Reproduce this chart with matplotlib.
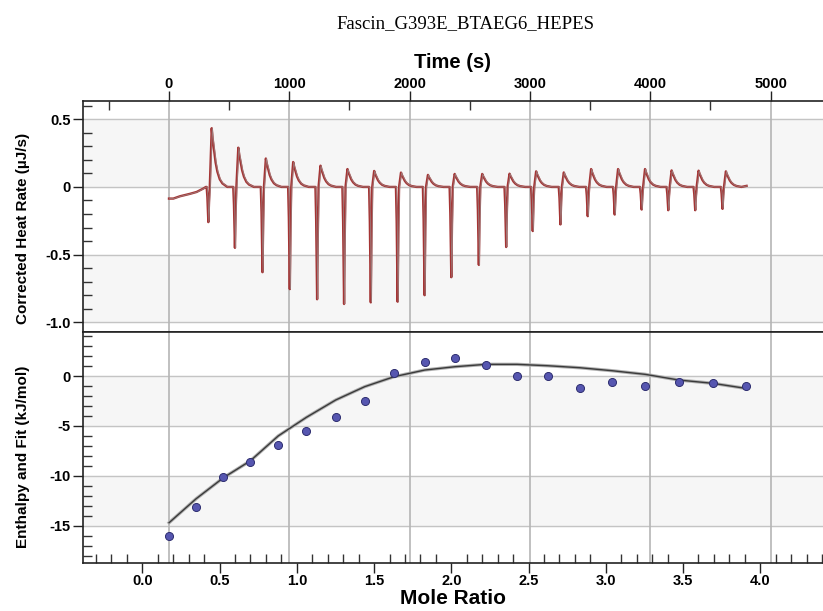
import matplotlib.pyplot as plt
from matplotlib.ticker import FixedLocator, MultipleLocator

plt.rcParams['font.family'] = ['Liberation Sans', 'DejaVu Sans']

title = 'Fascin_G393E_BTAEG6_HEPES'

# thermogram, baseline before the first injection (s, uJ/s)
base_t = [0, 36, 91, 174, 230, 285, 307]
base_q = [-0.086, -0.086, -0.069, -0.051, -0.037, -0.012, 0.0]

# injections: time of the negative spike, spike minimum, positive overshoot
inj_t = [327, 548, 777, 1004, 1231, 1455, 1677, 1900, 2124, 2346,
         2575, 2802, 3023, 3253, 3480, 3704, 3928, 4149, 4373, 4600]
inj_min = [-0.26, -0.45, -0.63, -0.755, -0.83, -0.865, -0.853, -0.848, -0.80, -0.667,
           -0.576, -0.444, -0.326, -0.277, -0.216, -0.204, -0.167, -0.172, -0.172, -0.162]
inj_max = [0.434, 0.29, 0.21, 0.184, 0.157, 0.132, 0.118, 0.106, 0.089, 0.096,
           0.096, 0.098, 0.115, 0.107, 0.132, 0.132, 0.132, 0.122, 0.12, 0.115]

# peak shape (offset s, share of minimum, share of maximum)
shape_dt = [-14, -8, 0, 6, 12, 28, 36, 47, 60, 75, 95, 117, 158]
shape_neg = [0, 0.3, 1.0, 0.4, 0, 0, 0, 0, 0, 0, 0, 0, 0]
shape_pos = [0, 0, 0, 0, 0, 1.0, 0.82, 0.63, 0.42, 0.26, 0.13, 0.06, 0]

end_t = [4800]
end_q = [0.008]

# integrated heats
mole_ratio = [0.173, 0.348, 0.524, 0.699, 0.880, 1.062, 1.252, 1.439, 1.629, 1.828,
              2.022, 2.223, 2.425, 2.626, 2.833, 3.042, 3.254, 3.472, 3.692, 3.907]
enthalpy = [-16.0, -13.16, -10.09, -8.65, -6.91, -5.54, -4.08, -2.51, 0.33, 1.37,
            1.82, 1.13, 0.0, 0.0, -1.17, -0.57, -1.03, -0.57, -0.67, -1.03]
fit = [-14.7, -12.3, -10.2, -8.5, -6.0, -4.14, -2.4, -1.07, -0.07, 0.6,
       0.93, 1.17, 1.17, 1.03, 0.83, 0.53, 0.17, -0.4, -0.73, -1.24]

time_ticks = [0, 1000, 2000, 3000, 4000, 5000]
time_minor = [-500, 500, 1500, 2500, 3500, 4500]
rate_ticks = [0.5, 0, -0.5, -1.0]
rate_labels = ['0.5', '0', '-0.5', '-1.0']
mr_ticks = [0.0, 0.5, 1.0, 1.5, 2.0, 2.5, 3.0, 3.5, 4.0]
dh_ticks = [0, -5, -10, -15]

t_lim = (-717, 5435)
mr_lim = (-0.386, 4.406)

# build the trace
trace_t = list(base_t)
trace_q = list(base_q)
for t0, qmin, qmax in zip(inj_t, inj_min, inj_max):
    for dt, fn, fp in zip(shape_dt, shape_neg, shape_pos):
        trace_t.append(t0 + dt)
        trace_q.append(fn * qmin + fp * qmax)
trace_t += end_t
trace_q += end_q

fig = plt.figure(figsize=(8.23, 6.11), dpi=100)
ax1 = fig.add_axes([0.1005, 0.4566, 0.8995, 0.3781])
ax2 = fig.add_axes([0.1005, 0.0790, 0.8995, 0.3776])

band = '#f6f6f6'
gridc = '#c4c4c4'
vgridc = '#b5b5b5'

## top panel
ax1.set_xlim(*t_lim)
ax1.set_ylim(-1.072, 0.635)
ax1.axhspan(0, 0.5, color=band, zorder=0)
ax1.axhspan(-1.0, -0.5, color=band, zorder=0)
for y in rate_ticks:
    ax1.axhline(y, color=gridc, lw=1, zorder=1)
for t in time_ticks:
    ax1.axvline(t, color=vgridc, lw=1.2, zorder=1)
ax1.plot(trace_t, trace_q, color='#a53434', lw=1.7, zorder=3)
ax1.plot([t + 5 for t in trace_t], trace_q, color='#9a8c8c', lw=0.6, alpha=0.8, zorder=4)

ax1.xaxis.tick_top()
ax1.xaxis.set_label_position('top')
ax1.set_xticks(time_ticks)
ax1.set_xticklabels([str(t) for t in time_ticks])
ax1.xaxis.set_minor_locator(FixedLocator(time_minor))
ax1.set_yticks(rate_ticks)
ax1.set_yticklabels(rate_labels)
ax1.yaxis.set_minor_locator(MultipleLocator(0.1))
ax1.set_xlabel('Time (s)', fontsize=14.5, fontweight='bold', labelpad=7)
ax1.set_ylabel('Corrected Heat Rate (µJ/s)', fontsize=11, fontweight='bold')
ax1.yaxis.set_label_coords(-0.071, 0.45)
fig.text(0.566, 0.962, title, family='Liberation Serif', fontsize=13.5, ha='center', va='center')

## bottom panel
ax2.set_xlim(*mr_lim)
ax2.set_ylim(-18.71, 4.41)
ax2.axhspan(-5, 0, color=band, zorder=0)
ax2.axhspan(-15, -10, color=band, zorder=0)
for y in dh_ticks:
    ax2.axhline(y, color=gridc, lw=1, zorder=1)
for t in time_ticks:
    m = mr_lim[0] + (t - t_lim[0]) / (t_lim[1] - t_lim[0]) * (mr_lim[1] - mr_lim[0])
    ax2.axvline(m, color=vgridc, lw=1.2, zorder=1)
ax2.plot(mole_ratio, fit, color='#b0b0b0', lw=2.4, zorder=3)
ax2.plot(mole_ratio, fit, color='#3a3a3a', lw=1.0, zorder=4)
ax2.plot(mole_ratio, enthalpy, 'o', ms=5.8, mfc='#5656b0', mec='#2e2e70', mew=0.7, zorder=5)

ax2.set_xticks(mr_ticks)
ax2.set_xticklabels([f'{m:.1f}' for m in mr_ticks])
ax2.xaxis.set_minor_locator(MultipleLocator(0.1))
ax2.set_yticks(dh_ticks)
ax2.set_yticklabels([str(d) for d in dh_ticks])
ax2.yaxis.set_minor_locator(MultipleLocator(1))
ax2.set_xlabel('Mole Ratio', fontsize=15, fontweight='bold', labelpad=0.5)
ax2.set_ylabel('Enthalpy and Fit (kJ/mol)', fontsize=11, fontweight='bold')
ax2.yaxis.set_label_coords(-0.071, 0.46)

for ax in (ax1, ax2):
    ax.spines['right'].set_visible(False)
    for s in ('left', 'top', 'bottom'):
        ax.spines[s].set_color('#222222')
        ax.spines[s].set_linewidth(1.2)
    ax.tick_params(which='major', direction='out', length=7, width=1, color='#222222',
                   labelsize=10.5, pad=1.5)
    ax.tick_params(which='minor', direction='in', length=6.5, width=1, color='#333333')
    for lab in ax.get_xticklabels() + ax.get_yticklabels():
        lab.set_fontweight('bold')

ax1.tick_params(axis='x', which='both', top=True, bottom=False)
ax1.tick_params(axis='x', which='major', pad=0)
ax2.tick_params(axis='x', which='both', top=False, bottom=True)
ax2.tick_params(axis='x', which='major', pad=1)
ax1.tick_params(axis='y', which='both', right=False)
ax2.tick_params(axis='y', which='both', right=False)

fig.savefig('out.png', dpi=100)
